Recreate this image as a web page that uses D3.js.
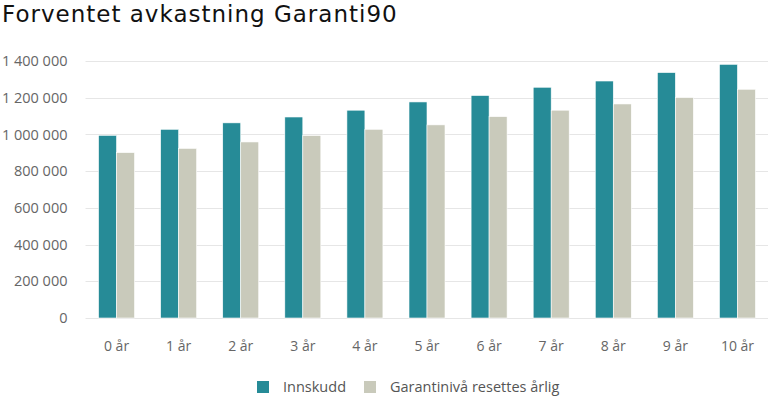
<!DOCTYPE html>
<meta charset="utf-8">
<title>Forventet avkastning Garanti90</title>
<script src="https://cdn.jsdelivr.net/npm/d3@7"></script>
<style>
  body { margin: 0; background: #fff; }
  text { font-family: "Open Sans", sans-serif; }
  .title { font-family: "DejaVu Sans", sans-serif; letter-spacing: 1px; }
</style>
<div id="chart"></div>
<script>
  // data
  var categories = ["0 år", "1 år", "2 år", "3 år", "4 år", "5 år", "6 år", "7 år", "8 år", "9 år", "10 år"];
  var innskudd = [995000, 1028000, 1063000, 1095000, 1132000, 1177000, 1212000, 1257000, 1291000, 1337000, 1382000];
  var garanti = [901000, 924000, 959000, 994000, 1028000, 1052000, 1097000, 1132000, 1166000, 1201000, 1246000];
  var seriesNames = ["Innskudd", "Garantinivå resettes årlig"];
  var yTicks = [0, 200000, 400000, 600000, 800000, 1000000, 1200000, 1400000];

  var width = 768, height = 397;
  var margin = { top: 61, right: 0, bottom: 79, left: 85.5 };
  var colors = ["#268b97", "#c9cabb"];

  var svg = d3.select("#chart").append("svg")
    .attr("width", width)
    .attr("height", height);

  svg.append("text")
    .attr("class", "title")
    .attr("x", 2)
    .attr("y", 22)
    .attr("font-size", 23)
    .attr("fill", "#111")
    .text("Forventet avkastning Garanti90");

  var x = d3.scaleBand()
    .domain(categories)
    .range([margin.left, width - margin.right + 0.5]);

  var y = d3.scaleLinear()
    .domain([0, 1400000])
    .range([height - margin.bottom, margin.top]);

  var fmt = function (v) { return d3.format(",")(v).replace(/,/g, " "); };

  // grid lines
  svg.append("g")
    .selectAll("line")
    .data(yTicks)
    .enter().append("line")
    .attr("x1", margin.left)
    .attr("x2", width)
    .attr("y1", function (d) { return Math.round(y(d)) + 0.5; })
    .attr("y2", function (d) { return Math.round(y(d)) + 0.5; })
    .attr("stroke", "#e6e6e6");

  // y axis labels
  var yAxis = svg.append("g")
    .attr("transform", "translate(" + (margin.left - 18) + ",0)")
    .call(d3.axisLeft(y).tickValues(yTicks).tickSize(0).tickPadding(0).tickFormat(fmt));
  yAxis.select(".domain").remove();
  yAxis.selectAll("text").attr("font-size", 14.5).attr("fill", "#666");

  // x axis labels
  var xAxis = svg.append("g")
    .attr("transform", "translate(0," + (height - margin.bottom) + ")")
    .call(d3.axisBottom(x).tickSize(0).tickPadding(23));
  xAxis.select(".domain").remove();
  xAxis.selectAll("text").attr("font-size", 14).attr("fill", "#666");

  var barW = 18;
  var rows = categories.map(function (c, i) { return { cat: c, vals: [innskudd[i], garanti[i]] }; });

  var groups = svg.append("g")
    .selectAll("g")
    .data(rows)
    .enter().append("g")
    .attr("transform", function (d) { return "translate(" + (x(d.cat) + x.bandwidth() / 2) + ",0)"; });

  groups.selectAll("rect")
    .data(function (d) { return d.vals.map(function (v, k) { return { v: v, k: k }; }); })
    .enter().append("rect")
    .attr("x", function (d) { return d.k === 0 ? -barW : 0; })
    .attr("width", barW)
    .attr("y", function (d) { return y(d.v); })
    .attr("height", function (d) { return y(0) - y(d.v); })
    .attr("fill", function (d) { return colors[d.k]; })
    .attr("stroke", "#fff")
    .attr("stroke-width", 0.6);

  // legend
  var legend = svg.append("g").attr("transform", "translate(257,381)");
  var lx = [0, 107];
  seriesNames.forEach(function (name, i) {
    legend.append("rect")
      .attr("x", lx[i]).attr("y", 0)
      .attr("width", 12).attr("height", 12)
      .attr("fill", colors[i]);
    legend.append("text")
      .attr("x", lx[i] + 26).attr("y", 11)
      .attr("font-size", 14.5)
      .attr("fill", "#555")
      .text(name);
  });
</script>
